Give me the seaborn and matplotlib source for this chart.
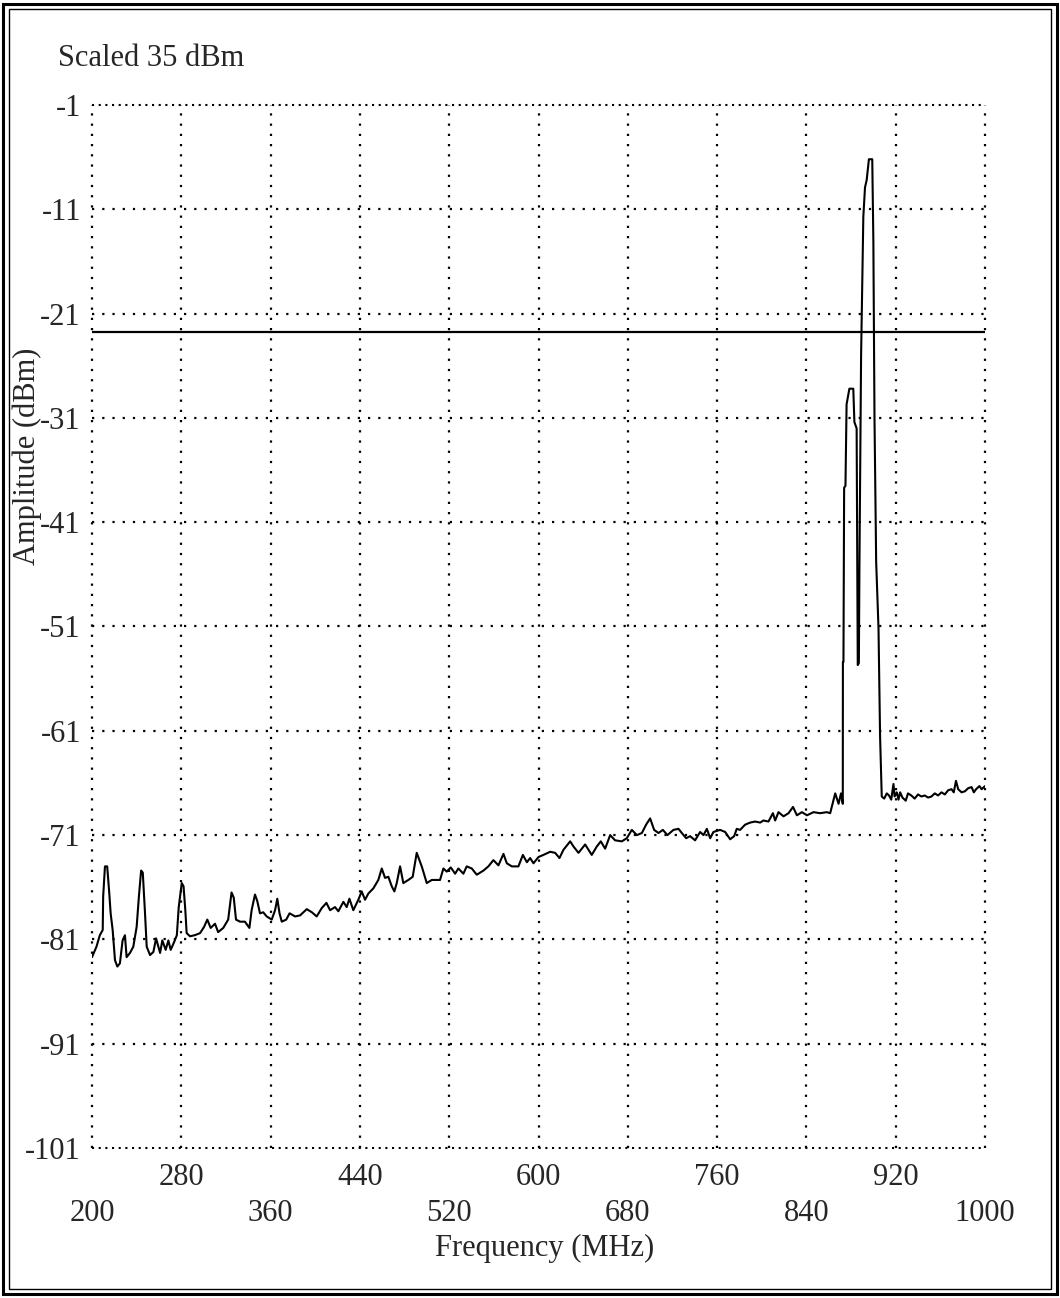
import matplotlib
matplotlib.use("Agg")
import matplotlib.pyplot as plt
import seaborn as sns
import pandas as pd
from matplotlib.patches import Rectangle

# ---------------- data ----------------
freq = [200.0, 204, 207, 209.6, 210, 211.6, 213.6, 215.5, 216.7, 218.5, 220.6, 222.7, 225, 227.4, 229.5,
        231, 234, 237, 240, 242, 244, 245.5, 247.5, 249, 252, 255, 257.4, 259.4, 261, 263, 266, 268.4,
        270.5, 273, 276, 277.7, 280.4, 282, 283.6, 284.8, 287.8, 292, 296.8, 300.4, 303.3, 306.3, 310.2,
        313, 317.6, 322, 325, 327, 329, 332.6, 337, 341, 343, 346, 348, 350.5, 353.4, 356.5, 361, 364,
        366, 368, 370, 374, 377, 382, 386.4, 392.4, 397, 401.3, 405.8, 410,
        413.3, 417.7, 420.7, 425.2, 428.2, 430.6, 434.1, 438.6, 441.6, 444.6, 447.6, 452.1, 456.5, 459.6,
        462.5, 465.5, 468.5, 470.9, 473.0, 476, 478.9, 483.4, 487.3, 490.9, 495.4, 499.9, 504.4, 511.8,
        514.8, 517.8, 521.4, 525.3, 528.2, 532.7, 535.7, 540.2, 544.7, 550.7, 555.1, 559.6, 564.1, 568.6,
        571.6, 576.1, 582, 586, 589.6, 592.5, 595.5, 600, 604.4, 610.4, 614.9, 618.8, 622.4, 628.4, 631.4,
        635.8, 641.8, 647.7, 652.2, 655.8, 659.7, 664.2, 668.6, 674.6, 679.1, 683.6, 688.1, 692.6, 696.4,
        700, 703.6, 707.5, 711.4, 715.5, 720.9, 725.4, 728.4, 732.3, 735.8, 740.3, 744.8, 747.8, 750.8,
        753.8, 756.7, 762.7, 767.2, 771.7, 775.3, 777.6, 780.6, 785.1, 789.6, 794.1, 798.6, 801.5, 806,
        810, 812, 815, 819.5, 824, 828, 831.5, 836, 840.5, 846.4, 852.3, 858.3, 861.3, 865.8, 868.8, 871,
        872.6, 872.7, 873.2, 873.8, 875, 876, 878.5, 882, 883, 885, 886, 887, 887.5,
        889, 891, 892.5, 894, 896, 899, 900, 901, 902.5, 904.6, 906, 907.5,
        909.7, 912, 914, 916, 918, 919, 921, 922.5, 924, 926, 929, 931, 934, 937, 940, 943, 946, 949,
        952, 955, 958, 961, 964, 967, 970, 972, 974, 976, 979, 982, 985, 988, 990, 992, 995, 997, 1000]

amp = [-82.7, -81.7, -80.6, -80.1, -76.9, -74.0, -74.0, -76.6, -78.5, -80.1, -83.0, -83.6, -83.3, -81.1, -80.6,
       -82.7, -82.3, -81.7, -79.8, -76.9, -74.4, -74.6, -78.5, -81.7, -82.5, -82.2, -80.9, -81.7, -82.3, -81.1, -82.0, -81.1,
       -82.0, -81.4, -80.6, -77.9, -75.6, -75.9, -78.2, -80.4, -80.7, -80.6, -80.4, -79.8, -79.1, -79.9, -79.5,
       -80.3, -79.9, -79.1, -76.5, -77.0, -79.1, -79.3, -79.3, -79.9, -78.2, -76.7, -77.3, -78.5, -78.4, -78.8, -79.1, -78.2,
       -77.1, -78.5, -79.3, -79.1, -78.5, -78.8, -78.7, -78.1, -78.4, -78.8, -78.0, -77.5,
       -78.2, -77.9, -78.3, -77.4, -77.9, -77.1, -78.2, -77.2, -76.4, -77.2, -76.6, -76.1, -75.3, -74.2,
       -75.1, -75.0, -75.9, -76.4, -75.6, -74.0, -75.6, -75.3, -75.0, -72.7, -74.0, -75.6, -75.3, -75.3,
       -74.2, -74.5, -74.1, -74.7, -74.2, -74.7, -74.0, -74.2, -74.8, -74.4, -74.0, -73.4, -73.9, -72.8,
       -73.7, -74.0, -74.0, -72.9, -73.6, -73.2, -73.7, -73.1, -72.9, -72.6, -72.7, -73.2, -72.4, -71.6, -72.1,
       -72.7, -71.9, -72.9, -72.1, -71.6, -72.3, -71.0, -71.5, -71.6, -71.3, -70.5, -71.0, -70.8, -70.0,
       -69.4, -70.5, -70.8, -70.5, -71.0, -70.5, -70.4, -70.8, -71.3, -71.1, -71.5, -70.7, -71.0, -70.4,
       -71.3, -70.7, -70.5, -70.7, -71.4, -71.1, -70.4, -70.5, -70.0, -69.8, -69.7, -69.8, -69.6, -69.7,
       -68.9, -69.6, -68.8, -69.2, -68.9, -68.3, -69.1, -68.8, -69.1, -68.8, -68.9, -68.8, -68.9, -67.0, -68.0, -67.0,
       -68.0, -54.4, -54.4, -37.7, -37.5, -29.7, -28.2, -28.2, -31.4, -32.0, -54.7, -54.5, -45.2,
       -25.0, -11.7, -8.9, -8.2, -6.2, -6.2, -14.2, -31.0, -44.8, -51.2, -61.5, -67.3,
       -67.5, -67.0, -67.2, -67.6, -66.1, -67.3, -66.9, -67.6, -66.9, -67.4, -67.7, -67.0, -67.2, -67.5, -67.1, -67.3, -67.2, -67.4,
       -67.3, -67.0, -67.2, -66.9, -67.1, -66.7, -66.6, -66.9, -65.8, -66.6, -66.9, -66.8, -66.5, -66.4, -66.9, -66.6, -66.3, -66.6, -66.3]

threshold = -22.8
x_major = [200, 360, 520, 680, 840, 1000]
x_minor = [280, 440, 600, 760, 920]
y_ticks = [-1, -11, -21, -31, -41, -51, -61, -71, -81, -91, -101]

# ---------------- style ----------------
sns.set_style("white")
plt.rcParams['font.family'] = ['Liberation Serif', 'DejaVu Serif']
FS = 22

W, H = 1060, 1298
fig = plt.figure(figsize=(W / 100, H / 100), dpi=100)
ax = fig.add_axes([92 / W, 1 - 1148 / H, 893 / W, 1043 / H])

df = pd.DataFrame({"Frequency": freq, "Amplitude": amp})
sns.lineplot(data=df, x="Frequency", y="Amplitude", ax=ax, color="black",
             linewidth=1.5, sort=False, estimator=None)
ax.axhline(threshold, color="black", linewidth=1.6)

ax.set_xlim(200, 1000)
ax.set_ylim(-101, -1)

for s in ax.spines.values():
    s.set_visible(False)

# dotted grid
for xv in x_major + x_minor:
    ax.axvline(xv, color="black", linewidth=1.6, linestyle=(0, (1, 3.6)), clip_on=False, zorder=0)
for yv in y_ticks:
    dense = yv in (y_ticks[0], y_ticks[-1])
    ax.axhline(yv, color="black", linewidth=1.5 if dense else 1.6,
               linestyle=(0, (1, 2.2)) if dense else (0, (1, 3.6)), clip_on=False, zorder=0)

ax.set_yticks(y_ticks)
ax.set_yticklabels([str(v) for v in y_ticks], fontsize=FS)
ax.set_xticks(x_major)
ax.set_xticklabels([str(v) for v in x_major], fontsize=FS)
ax.set_xticks(x_minor, minor=True)
ax.set_xticklabels([str(v) for v in x_minor], minor=True, fontsize=FS)
ax.tick_params(axis="y", length=0, pad=8)
ax.tick_params(axis="x", which="minor", length=0, pad=11)
ax.tick_params(axis="x", which="major", length=0, pad=37)

ax.set_xlabel("Frequency (MHz)", fontsize=FS)
ax.xaxis.set_label_coords((545 - 92) / 893, (1148 - 1234) / 1043)
ax.set_ylabel("")
fig.text(27.5 / W, 1 - 456 / H, "Amplitude (dBm)", rotation=90, fontsize=FS,
         ha="center", va="center")
fig.text(58 / W, 1 - 58 / H, "Scaled 35 dBm", fontsize=FS, ha="left", va="center")

# double frame around the figure
fig.patches.append(Rectangle((3 / W, 4 / H), 1054 / W, 1290 / H, transform=fig.transFigure,
                             fill=False, edgecolor="black", linewidth=2.2))
fig.patches.append(Rectangle((9 / W, 9 / H), 1042 / W, 1280 / H, transform=fig.transFigure,
                             fill=False, edgecolor="black", linewidth=1.0))

fig.savefig("out.png", dpi=100, facecolor="white")
